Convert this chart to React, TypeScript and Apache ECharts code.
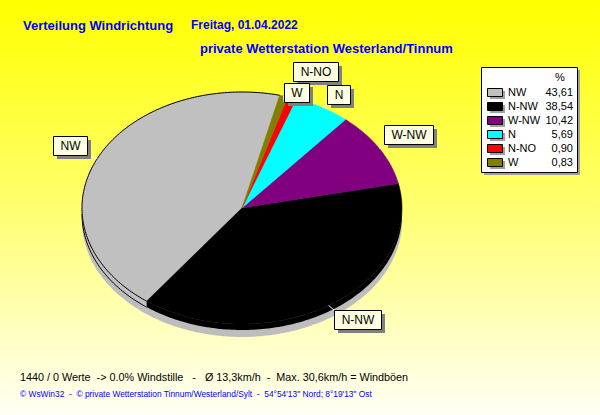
import React, { useEffect, useRef } from "react";
import * as echarts from "echarts";

// ---------- data ----------
const categories = ["NW", "N-NW", "W-NW", "N", "N-NO", "W"];
const percentages = [43.61, 38.54, 10.42, 5.69, 0.9, 0.83];
const sliceColors = ["#c0c0c0", "#000000", "#800080", "#00ffff", "#ff0000", "#808000"];
const rimColors = ["#000000", null, null, null, null, null];

const titleMain = "Verteilung Windrichtung";
const titleDate = "Freitag, 01.04.2022";
const subtitle = "private Wetterstation Westerland/Tinnum";
const legendHeader = "%";
const statsLine =
  "1440 / 0 Werte  -> 0.0% Windstille   -   \u00D8 13,3km/h  -  Max. 30,6km/h = Windb\u00F6en";
const copyrightLine =
  "\u00A9 WsWin32  -  \u00A9 private Wetterstation Tinnum/Westerland/Sylt  -  54\u00B054'13\" Nord; 8\u00B019'13\" Ost";

// ---------- layout / style ----------
const FONT = '"Liberation Sans", Arial, sans-serif';
const PIE = { cx: 242, cy: 208, rx: 160, ry: 116, depth: 6, shadowDy: 13, startAngle: 76.4 };
const LABEL = { size: 12, padX: 7, h: 19, gapX: 5, gapY: 4, shadow: 4 };
const labelNudge: Record<string, [number, number]> = {
  NW: [-5, 0],
  W: [-5, 10],
  "N-NO": [-4, -13],
};
const LEGEND = { x: 481, y: 67, w: 96, h: 105, rowY0: 92, rowDy: 14, swX: 487, swW: 15, swH: 8, nameX: 508, valX: 573 };

let measureCtx: CanvasRenderingContext2D | null = null;
function textWidth(t: string, font: string): number {
  if (!measureCtx) measureCtx = document.createElement("canvas").getContext("2d");
  if (!measureCtx) return t.length * 7;
  measureCtx.font = font;
  return measureCtx.measureText(t).width;
}

const total = percentages.reduce((a, b) => a + b, 0);
const starts: number[] = [];
{
  let acc = 0;
  percentages.forEach((v) => {
    starts.push(acc);
    acc += v;
  });
}

function pt(deg: number, dy = 0): number[] {
  const t = (deg * Math.PI) / 180;
  return [PIE.cx + PIE.rx * Math.cos(t), PIE.cy - PIE.ry * Math.sin(t) + dy];
}
function arc(a0: number, a1: number, dy = 0): number[][] {
  const pts: number[][] = [];
  const n = Math.max(2, Math.ceil(Math.abs(a1 - a0)));
  for (let k = 0; k <= n; k++) pts.push(pt(a0 + ((a1 - a0) * k) / n, dy));
  return pts;
}

function renderSlice(params: any, api: any) {
  const i = params.dataIndex;
  const v = api.value(0) as number;
  const a0 = PIE.startAngle + (360 * starts[i]) / total;
  const a1 = a0 + (360 * v) / total;
  const color = sliceColors[i];
  const rim = rimColors[i];
  const children: any[] = [];

  // side wall (front half only)
  for (let k = -1; k <= 2; k++) {
    const lo = Math.max(a0, 180 + 360 * k);
    const hi = Math.min(a1, 360 + 360 * k);
    if (hi > lo) {
      const top = arc(lo, hi, 0);
      const bot = arc(lo, hi, PIE.depth).reverse();
      children.push({ type: "polygon", shape: { points: top.concat(bot) }, style: { fill: color }, z2: 1 });
      if (rim) {
        children.push({
          type: "polyline",
          shape: { points: arc(lo, hi, PIE.depth) },
          style: { stroke: rim, lineWidth: 1, fill: null },
          z2: 2,
        });
      }
    }
  }
  // top face
  children.push({
    type: "polygon",
    shape: { points: [[PIE.cx, PIE.cy], ...arc(a0, a1)] },
    style: { fill: color, stroke: color, lineWidth: 0.5 },
    z2: 3,
  });
  if (rim) {
    children.push({
      type: "polyline",
      shape: { points: arc(a0, a1) },
      style: { stroke: rim, lineWidth: 1, fill: null },
      z2: 4,
    });
  }

  // label
  const mid = (a0 + a1) / 2;
  const c = Math.cos((mid * Math.PI) / 180);
  const s = Math.sin((mid * Math.PI) / 180);
  const E = pt(mid);
  const name = categories[i];
  const font = `${LABEL.size}px ${FONT}`;
  const w = Math.round(textWidth(name, font)) + 2 * LABEL.padX;
  const h = LABEL.h;
  let left = c >= 0 ? E[0] + LABEL.gapX : E[0] - LABEL.gapX - w;
  let top = s >= 0 ? E[1] - LABEL.gapY - h : E[1] + LABEL.gapY;
  const nd = labelNudge[name] || [0, 0];
  left = Math.round(left + nd[0]);
  top = Math.round(top + nd[1]);
  const corner = [c >= 0 ? left : left + w, s >= 0 ? top + h : top];
  children.push({
    type: "line",
    shape: { x1: E[0], y1: E[1], x2: corner[0], y2: corner[1] },
    style: { stroke: "#ffffff", lineWidth: 1 },
    z2: 10,
  });
  children.push({
    type: "rect",
    shape: { x: left + LABEL.shadow, y: top + LABEL.shadow, width: w, height: h },
    style: { fill: "#808080" },
    z2: 11,
  });
  children.push({
    type: "rect",
    shape: { x: left + 0.5, y: top + 0.5, width: w, height: h },
    style: { fill: "#ffffe1", stroke: "#000000", lineWidth: 1 },
    z2: 12,
  });
  children.push({
    type: "text",
    x: left + 0.5 + w / 2,
    y: top + 0.5 + h / 2,
    style: { text: name, fill: "#000000", font, align: "center", verticalAlign: "middle" },
    z2: 13,
  });

  return { type: "group", children };
}

function renderShadow() {
  return {
    type: "polygon",
    shape: { points: arc(0, 360, PIE.shadowDy) },
    style: { fill: "#bdbdbd" },
  };
}

function buildGraphic(): any[] {
  const g: any[] = [];
  g.push({ type: "text", x: 23, y: 25, style: { text: titleMain, fill: "#0000ff", font: `bold 13px ${FONT}`, verticalAlign: "middle" } });
  g.push({ type: "text", x: 191, y: 25, style: { text: titleDate, fill: "#0000ff", font: `bold 12px ${FONT}`, verticalAlign: "middle" } });
  g.push({ type: "text", x: 200, y: 48, style: { text: subtitle, fill: "#0000ff", font: `bold 13px ${FONT}`, verticalAlign: "middle" } });

  // legend box
  g.push({ type: "rect", shape: { x: LEGEND.x + 3, y: LEGEND.y + 3, width: LEGEND.w, height: LEGEND.h }, style: { fill: "#a0a0a0" } });
  g.push({
    type: "rect",
    shape: { x: LEGEND.x + 0.5, y: LEGEND.y + 0.5, width: LEGEND.w, height: LEGEND.h },
    style: { fill: "#ffffff", stroke: "#000000", lineWidth: 1 },
  });
  const lf = `11px ${FONT}`;
  g.push({ type: "text", x: 560, y: 77, style: { text: legendHeader, fill: "#000", font: lf, align: "center", verticalAlign: "middle" } });
  categories.forEach((name, i) => {
    const y = LEGEND.rowY0 + LEGEND.rowDy * i;
    g.push({ type: "rect", shape: { x: LEGEND.swX + 3, y: y - LEGEND.swH / 2 + 3, width: LEGEND.swW, height: LEGEND.swH }, style: { fill: "#a0a0a0" } });
    g.push({
      type: "rect",
      shape: { x: LEGEND.swX + 0.5, y: y - LEGEND.swH / 2 + 0.5, width: LEGEND.swW, height: LEGEND.swH },
      style: { fill: sliceColors[i], stroke: "#000000", lineWidth: 1 },
    });
    g.push({ type: "text", x: LEGEND.nameX, y, style: { text: name, fill: "#000", font: lf, verticalAlign: "middle" } });
    g.push({
      type: "text",
      x: LEGEND.valX,
      y,
      style: { text: percentages[i].toFixed(2).replace(".", ","), fill: "#000", font: lf, align: "right", verticalAlign: "middle" },
    });
  });

  g.push({ type: "text", x: 20, y: 377, style: { text: statsLine, fill: "#000000", font: `10.8px ${FONT}`, verticalAlign: "middle" } });
  g.push({ type: "text", x: 20, y: 394, style: { text: copyrightLine, fill: "#0000ff", font: `8.4px ${FONT}`, verticalAlign: "middle" } });
  return g;
}

export default function App() {
  const ref = useRef<HTMLDivElement>(null);
  useEffect(() => {
    if (!ref.current) return;
    const chart = echarts.init(ref.current, undefined, { renderer: "svg" });
    chart.setOption({
      animation: false,
      backgroundColor: {
        type: "linear",
        x: 0,
        y: 0,
        x2: 0,
        y2: 1,
        colorStops: [
          { offset: 0, color: "#ffff00" },
          { offset: 0.5, color: "#ffff70" },
          { offset: 1, color: "#fffff6" },
        ],
      },
      graphic: buildGraphic(),
      series: [
        {
          type: "custom",
          name: "shadow",
          coordinateSystem: "none",
          silent: true,
          z: 1,
          data: [[0]],
          renderItem: renderShadow,
        },
        {
          type: "custom",
          name: "Windrichtung",
          coordinateSystem: "none",
          silent: true,
          z: 2,
          data: percentages.map((v, i) => ({ name: categories[i], value: [v, i] })),
          renderItem: renderSlice,
        },
      ],
    });
    return () => chart.dispose();
  }, []);
  return <div ref={ref} style={{ position: "fixed", left: 0, top: 0, width: 600, height: 415 }} />;
}
